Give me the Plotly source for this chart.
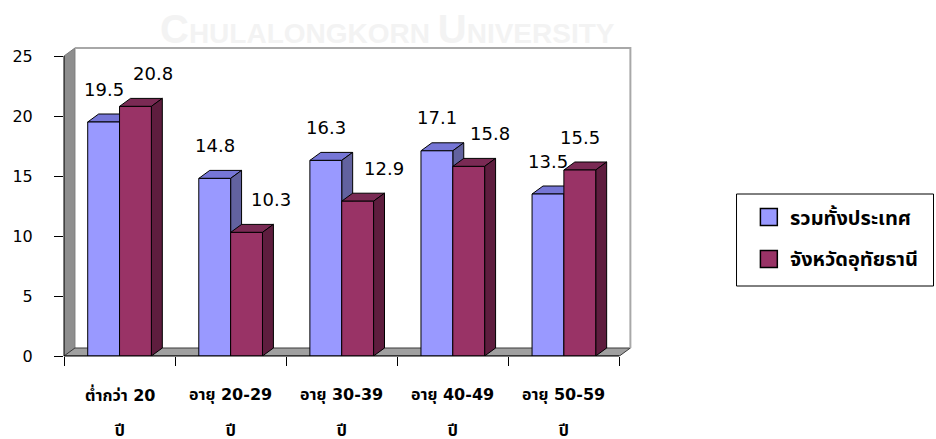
import plotly.graph_objects as go

# ---- data -------------------------------------------------------------
categories = ["ต่ำกว่า 20", "อายุ 20-29", "อายุ 30-39", "อายุ 40-49", "อายุ 50-59"]
category_unit = ["ปี", "ปี", "ปี", "ปี", "ปี"]
series_names = ["รวมทั้งประเทศ", "จังหวัดอุทัยธานี"]
national = [19.5, 14.8, 16.3, 17.1, 13.5]
uthai = [20.8, 10.3, 12.9, 15.8, 15.5]
y_ticks = [0, 5, 10, 15, 20, 25]

# ---- geometry / style ------------------------------------------------
W, H = 936, 439
PLOT_L, PLOT_R, PLOT_T, PLOT_B = 61, 645, 30, 356   # pixel box of the subplot
CAT_PX = 111.66                                     # pixels per category
Y_PX = 12.0                                         # pixels per y unit
X_MIN = -0.5
X_MAX = X_MIN + (PLOT_R - PLOT_L) / CAT_PX
Y_MAX = (PLOT_B - PLOT_T) / Y_PX
N = len(categories)
Y_TOP = y_ticks[-1]

DX = 11 / CAT_PX        # depth offset, x units
DY = 8 / Y_PX           # depth offset, y units
BW = 32 / CAT_PX        # bar width, x units

BLUE = dict(front="#9999FF", top="#7676D6", side="#62629F")
RED = dict(front="#993366", top="#7A2A54", side="#5E1D3E")
FONT = "Tahoma, DejaVu Sans, Noto Sans Thai, sans-serif"


def px_x(px):
    return (px - PLOT_L) / (PLOT_R - PLOT_L)


def px_y(py):
    return (PLOT_B - py) / (PLOT_B - PLOT_T)


def poly(pts, xs, ys):
    for x, y in pts:
        xs.append(x)
        ys.append(y)
    xs.append(None)
    ys.append(None)


def faces(values, offset):
    fr, tp, sd = ([], []), ([], []), ([], [])
    for i, h in enumerate(values):
        x0 = i + offset
        x1 = x0 + BW
        poly([(x0, 0), (x1, 0), (x1, h), (x0, h), (x0, 0)], *fr)
        poly([(x0, h), (x1, h), (x1 + DX, h + DY), (x0 + DX, h + DY), (x0, h)], *tp)
        poly([(x1, 0), (x1 + DX, DY), (x1 + DX, h + DY), (x1, h), (x1, 0)], *sd)
    return fr, tp, sd


def face_trace(xy, color):
    return go.Scatter(
        x=xy[0], y=xy[1], mode="lines", fill="toself", fillcolor=color,
        line=dict(color="black", width=1), hoverinfo="skip", showlegend=False,
    )


fig = go.Figure()

# walls and floor
x_end = X_MIN + N
fig.add_trace(go.Scatter(
    x=[X_MIN, X_MIN, X_MIN + DX, X_MIN + DX, X_MIN],
    y=[0, Y_TOP, Y_TOP + DY, DY, 0],
    mode="lines", fill="toself", fillcolor="#8E8E8E",
    line=dict(color="#7A7A7A", width=1), hoverinfo="skip", showlegend=False))
fig.add_trace(go.Scatter(
    x=[X_MIN, x_end, x_end + DX, X_MIN + DX, X_MIN],
    y=[0, 0, DY, DY, 0],
    mode="lines", fill="toself", fillcolor="#A0A0A0",
    line=dict(color="#3A3A3A", width=1), hoverinfo="skip", showlegend=False))
fig.add_trace(go.Scatter(
    x=[X_MIN + DX, x_end + DX, x_end + DX],
    y=[Y_TOP + DY, Y_TOP + DY, DY],
    mode="lines", line=dict(color="#A8A8A8", width=2),
    hoverinfo="skip", showlegend=False))

# 3-D bars: blue in front-left, red beside it
b_front, b_top, b_side = faces(national, -BW)
r_front, r_top, r_side = faces(uthai, 0)
for xy, c in [(b_top, BLUE["top"]), (b_side, BLUE["side"]), (b_front, BLUE["front"]),
              (r_top, RED["top"]), (r_side, RED["side"]), (r_front, RED["front"])]:
    fig.add_trace(face_trace(xy, c))

annotations = []

# faint watermark across the top
annotations.append(dict(
    x=px_x(386), y=px_y(29), xref="paper", yref="paper", showarrow=False,
    xanchor="center", yanchor="middle",
    text=("<span style='font-size:40px'>C</span>HULALONGKORN "
          "<span style='font-size:40px'>U</span>NIVERSITY"),
    font=dict(family="Liberation Sans Narrow, Arial Narrow, sans-serif", size=28,
              color="#F3F3F3", weight="bold")))

# value labels
red_label_shift = [18, 24, 26, 21, 0]
for i in range(N):
    annotations.append(dict(
        x=i - BW / 2, y=national[i], xref="x", yref="y", text=f"{national[i]:.1f}",
        showarrow=False, yshift=33, font=dict(family=FONT, size=18, color="black")))
    annotations.append(dict(
        x=i + BW / 2, y=uthai[i], xref="x", yref="y", text=f"{uthai[i]:.1f}",
        showarrow=False, yshift=33, xshift=red_label_shift[i],
        font=dict(family=FONT, size=18, color="black")))

# two-line category labels
for i in range(N):
    annotations.append(dict(
        x=i, y=0, xref="x", yref="y", text=f"<b>{categories[i]}</b>", showarrow=False,
        yshift=-38, font=dict(family=FONT, size=16, color="black")))
    annotations.append(dict(
        x=i, y=0, xref="x", yref="y", text=f"<b>{category_unit[i]}</b>", showarrow=False,
        yshift=-74, font=dict(family=FONT, size=16, color="black")))

# axis lines and legend box
shapes = [
    dict(type="line", xref="paper", yref="y", x0=0, x1=0, y0=0, y1=Y_TOP,
         line=dict(color="black", width=1), layer="above"),
    dict(type="line", xref="x", yref="paper", x0=X_MIN - 9 / CAT_PX, x1=x_end, y0=0, y1=0,
         line=dict(color="black", width=1), layer="above"),
    dict(type="rect", xref="paper", yref="paper",
         x0=px_x(737), x1=px_x(935), y0=px_y(286), y1=px_y(194),
         line=dict(color="black", width=1), fillcolor="white"),
]
for k, (name, col) in enumerate(zip(series_names, [BLUE["front"], RED["front"]])):
    cy = 217 + 42 * k
    shapes.append(dict(type="rect", xref="paper", yref="paper",
                       x0=px_x(761), x1=px_x(778), y0=px_y(cy + 8.5), y1=px_y(cy - 8.5),
                       line=dict(color="black", width=1.5), fillcolor=col))
    annotations.append(dict(
        x=px_x(789), y=px_y(cy), xref="paper", yref="paper",
        xanchor="left", yanchor="middle",
        text=f"<b>{name}</b>", showarrow=False,
        font=dict(family=FONT, size=20, color="black")))

fig.update_layout(
    width=W, height=H,
    margin=dict(l=PLOT_L, r=W - PLOT_R, t=PLOT_T, b=H - PLOT_B, pad=0),
    paper_bgcolor="white", plot_bgcolor="white",
    showlegend=False,
    xaxis=dict(range=[X_MIN, X_MAX], showgrid=False, zeroline=False, showline=False,
               tickmode="linear", tick0=X_MIN, dtick=1, ticks="outside", ticklen=9,
               tickcolor="black", tickwidth=1, showticklabels=False, fixedrange=True),
    yaxis=dict(range=[0, Y_MAX], showgrid=False, zeroline=False, showline=False,
               tickmode="array", tickvals=y_ticks, ticks="outside", ticklen=9,
               tickcolor="black", tickwidth=1, ticklabelstandoff=18,
               tickfont=dict(family=FONT, size=16, color="black"), fixedrange=True),
    shapes=shapes,
    annotations=annotations,
)

fig.write_html("out.html")
